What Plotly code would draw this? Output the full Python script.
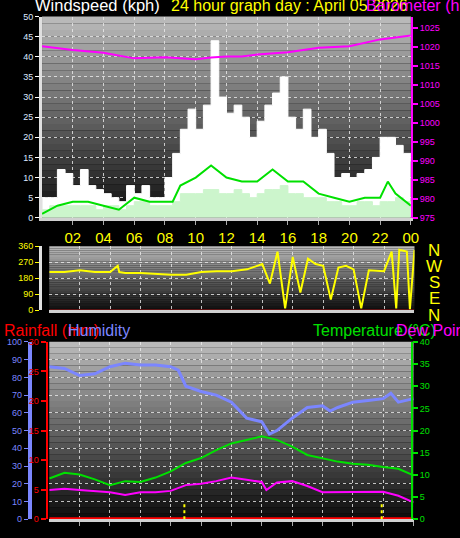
import plotly.graph_objects as go

# ---- data (hours 0..24) ----
half_hours = [i * 0.5 for i in range(49)]
wind_gust = [5, 5, 12, 11, 8, 12, 8, 7, 6, 5, 4, 8, 6, 8, 5, 5, 10, 16, 22, 27,
             22, 28, 44, 30, 26, 28, 25, 20, 24, 28, 31, 35, 25, 22, 27, 20, 22, 16,
             10, 11, 10, 11, 12, 15, 20, 20, 18, 16, 14]
wind_lull = [2, 3, 3, 3, 3, 3, 3, 2, 3, 3, 2, 3, 4, 4, 3, 3, 3, 4, 6, 6,
             6, 7, 7, 6, 6, 7, 6, 5, 6, 7, 7, 8, 6, 6, 5, 5, 5, 4,
             4, 3, 3, 4, 4, 3, 4, 4, 5, 4, 3]

avg_hours = [0, 1, 2, 3, 4, 5, 6, 7, 8, 8.5, 9, 10, 11, 12, 13, 14, 15, 16, 17, 18,
             19, 20, 21, 22, 22.5, 23, 24]
wind_avg = [1, 3, 4, 4, 3, 2, 5, 4, 4, 4, 8, 10, 13, 10, 9, 9, 12, 9, 9, 6,
            5, 4, 5, 5, 9, 6, 3]

pres_hours = [0, 2, 4, 6, 8, 10, 11, 12, 13, 14, 16, 18, 20, 22, 24]
pressure = [1020.2, 1019.2, 1018.5, 1017, 1017.3, 1016.8, 1017.2, 1017.5, 1017.5,
            1018, 1018.6, 1019.8, 1020.2, 1022, 1023]

dir_hours = [0, 1, 2, 3, 4, 4.5, 4.6, 5, 6, 7, 8, 9, 10, 11, 12, 13, 14, 14.5, 15,
             15.5, 16, 16.5, 17, 17.5, 18, 18.5, 19, 19.5, 20, 20.5, 21, 22, 22.5,
             22.8, 23, 23.5, 23.7, 24]
wind_dir = [215, 215, 225, 215, 215, 250, 215, 210, 210, 205, 200, 200, 215, 220, 220,
            230, 260, 150, 330, 10, 300, 100, 290, 260, 250, 60, 240, 250, 230, 10,
            225, 220, 330, 10, 340, 330, 5, 340]

hum_hours = [0, 1, 2, 3, 4, 5, 6, 7, 8, 8.5, 9, 10, 11, 12, 13, 13.5, 14, 14.5, 15,
             16, 17, 18, 18.5, 19, 20, 21, 22, 22.5, 23, 24]
humidity = [86, 85, 81, 82, 86, 88, 87, 87, 86, 84, 75, 72, 70, 66, 57, 56, 55, 48, 50,
            57, 63, 64, 61, 63, 66, 67, 68, 71, 66, 68]

hours = list(range(25))
temperature = [9.2, 10.5, 10.1, 9.0, 7.7, 8.6, 8.4, 9.4, 10.8, 12.7, 13.8, 15.6, 17.1,
               17.9, 18.7, 17.9, 16.4, 14.5, 13.8, 13.0, 12.5, 12.3, 11.8, 11.4, 9.9]
dew_hours = [0, 1, 2, 3, 4, 5, 6, 7, 8, 9, 10, 11, 12, 13, 14, 14.3, 15, 16, 17, 18,
             19, 20, 21, 22, 23, 24]
dew_point = [6.6, 6.9, 6.6, 6.4, 6.1, 5.5, 6.1, 6.1, 6.4, 7.7, 8.0, 8.6, 9.4, 8.9, 8.4,
             6.6, 8.3, 8.6, 7.5, 6.1, 6.1, 6.1, 6.1, 6.2, 5.3, 3.8]
rain = [0] * 25
rain_marks = [8.9, 21.9]

tick_hours = list(range(2, 25, 2))
tick_text = ["02", "04", "06", "08", "10", "12", "14", "16", "18", "20", "22", "00"]

FONT = "Liberation Sans"
fig = go.Figure()

# wind panel
fig.add_trace(go.Scatter(x=half_hours, y=wind_gust, mode="lines", line=dict(color="white", width=1, shape="hv"),
                         fill="tozeroy", fillcolor="white", xaxis="x", yaxis="y"))
fig.add_trace(go.Scatter(x=half_hours, y=wind_lull, mode="lines", line=dict(color="#ccf5cc", width=1, shape="hv"),
                         fill="tozeroy", fillcolor="#ccf5cc", xaxis="x", yaxis="y"))
fig.add_trace(go.Scatter(x=avg_hours, y=wind_avg, mode="lines", line=dict(color="#00e000", width=2),
                         xaxis="x", yaxis="y"))
fig.add_trace(go.Scatter(x=pres_hours, y=pressure, mode="lines", line=dict(color="#ff00ff", width=2),
                         xaxis="x", yaxis="y2"))

# direction panel
fig.add_trace(go.Scatter(x=[0, 24], y=[0, 0], mode="lines", line=dict(color="#ff2020", width=1),
                         xaxis="x2", yaxis="y3"))
fig.add_trace(go.Scatter(x=dir_hours, y=wind_dir, mode="lines", line=dict(color="yellow", width=2),
                         xaxis="x2", yaxis="y3"))

# climate panel
fig.add_trace(go.Scatter(x=hum_hours, y=humidity, mode="lines", line=dict(color="#7b86ff", width=3),
                         xaxis="x3", yaxis="y4"))
fig.add_trace(go.Scatter(x=hours, y=temperature, mode="lines", line=dict(color="#00e000", width=2),
                         xaxis="x3", yaxis="y6"))
fig.add_trace(go.Scatter(x=dew_hours, y=dew_point, mode="lines", line=dict(color="#ff00ff", width=2),
                         xaxis="x3", yaxis="y6"))
fig.add_trace(go.Scatter(x=hours, y=rain, mode="lines", line=dict(color="red", width=4),
                         xaxis="x3", yaxis="y5"))
for h in rain_marks:
    fig.add_trace(go.Scatter(x=[h, h], y=[0, 2.6], mode="lines", line=dict(color="yellow", width=2, dash="dot"),
                             xaxis="x3", yaxis="y5"))

# gradient backgrounds
shapes = []
n = 30
for xr, yr in [("x", "y"), ("x2", "y3"), ("x3", "y4")]:
    for i in range(n):
        g = int(185 - 170 * i / (n - 1))
        shapes.append(dict(type="rect", xref=xr + " domain", yref=yr + " domain",
                           x0=0, x1=1, y0=1 - (i + 1) / n, y1=1 - i / n, layer="below",
                           line=dict(width=0), fillcolor=f"rgb({g},{g},{g})"))

grid = dict(showgrid=True, gridcolor="rgba(235,235,235,0.8)", griddash="dot", gridwidth=1, zeroline=False)
xgrid = dict(range=[0, 24], tickvals=tick_hours, showline=True, linecolor="#d0d0d0", linewidth=3, **grid)

fig.update_layout(
    width=460, height=538, margin=dict(l=0, r=0, t=0, b=0),
    paper_bgcolor="black", plot_bgcolor="rgba(0,0,0,0)",
    showlegend=False, shapes=shapes,
    font=dict(family=FONT, size=9),
    xaxis=dict(domain=[0.093, 0.909], anchor="y", ticktext=tick_text, ticks="outside", ticklen=4,
               tickcolor="#aaaaaa", tickfont=dict(color="yellow", size=15), **xgrid),
    yaxis=dict(domain=[0.597, 0.978], range=[0, 50], dtick=5, ticks="outside", ticklen=4, tickcolor="white",
               tickfont=dict(color="#dde8ff"), showline=True, linecolor="#e0e0e0", linewidth=3, **grid),
    yaxis2=dict(overlaying="y", side="right", range=[975, 1028], dtick=5, ticks="outside", ticklen=5,
                tickcolor="#ff00ff", tickwidth=2, tickfont=dict(color="#ff00ff"), showgrid=False,
                showline=True, linecolor="#ff00ff", linewidth=2, zeroline=False),
    xaxis2=dict(domain=[0.109, 0.917], anchor="y3", showticklabels=False, **xgrid),
    yaxis3=dict(domain=[0.422, 0.543], range=[0, 360], dtick=90, ticks="outside", ticklen=4, tickcolor="yellow",
                tickfont=dict(color="yellow"), showline=True, linecolor="#e0e0e0", linewidth=3, **grid),
    xaxis3=dict(domain=[0.109, 0.915], anchor="y4", showticklabels=False, ticks="outside", ticklen=4,
                tickcolor="#aaaaaa", **xgrid),
    yaxis4=dict(domain=[0.026, 0.362], range=[0, 100], dtick=10, anchor="free", position=0.066,
                ticks="outside", ticklen=4, tickcolor="#7b86ff", tickfont=dict(color="#7b86ff"),
                showline=True, linecolor="#7b86ff", linewidth=4, **grid),
    yaxis5=dict(overlaying="y4", anchor="free", position=0.103, side="left", range=[0, 30], dtick=5,
                ticks="outside", ticklen=5, tickwidth=2, tickcolor="red", tickfont=dict(color="red"),
                showgrid=False, showline=True, linecolor="red", linewidth=2, zeroline=False),
    yaxis6=dict(overlaying="y4", side="right", range=[0, 40], dtick=5, ticks="outside", ticklen=5, tickwidth=2,
                tickcolor="#00e000", tickfont=dict(color="#00e000"), showgrid=False,
                showline=True, linecolor="#00e000", linewidth=2, zeroline=False),
)

titles = [
    ("Windspeed (kph)", 0.072, 1.0, "white", 16.5),
    ("24 hour graph day : April 05 2026", 0.374, 1.0, "yellow", 16),
    ("Barometer (hPa)", 0.806, 1.0, "#ff00ff", 16),
    ("Rainfall (mm)", 0.004, 0.383, "red", 16),
    ("Humidity", 0.146, 0.383, "#7b86ff", 16),
    ("Temperature (°C)", 0.687, 0.383, "#00e000", 16),
    ("Dew Point", 0.872, 0.383, "#ff00ff", 16),
]
for text, x, y, c, s in titles:
    fig.add_annotation(text=text, x=x, y=y, xref="paper", yref="paper", xanchor="left", yanchor="middle",
                       showarrow=False, font=dict(color=c, size=s, family=FONT))

for i, letter in enumerate(["N", "W", "S", "E", "N"]):
    fig.add_annotation(text=letter, x=0.961, y=1 - (250 + 16.5 * i) / 538, xref="paper", yref="paper",
                       xanchor="center", yanchor="middle", showarrow=False,
                       font=dict(color="yellow", size=17, family=FONT))

fig.write_html("out.html", config={"displayModeBar": False},
               post_script="document.body.style.margin='0';")
